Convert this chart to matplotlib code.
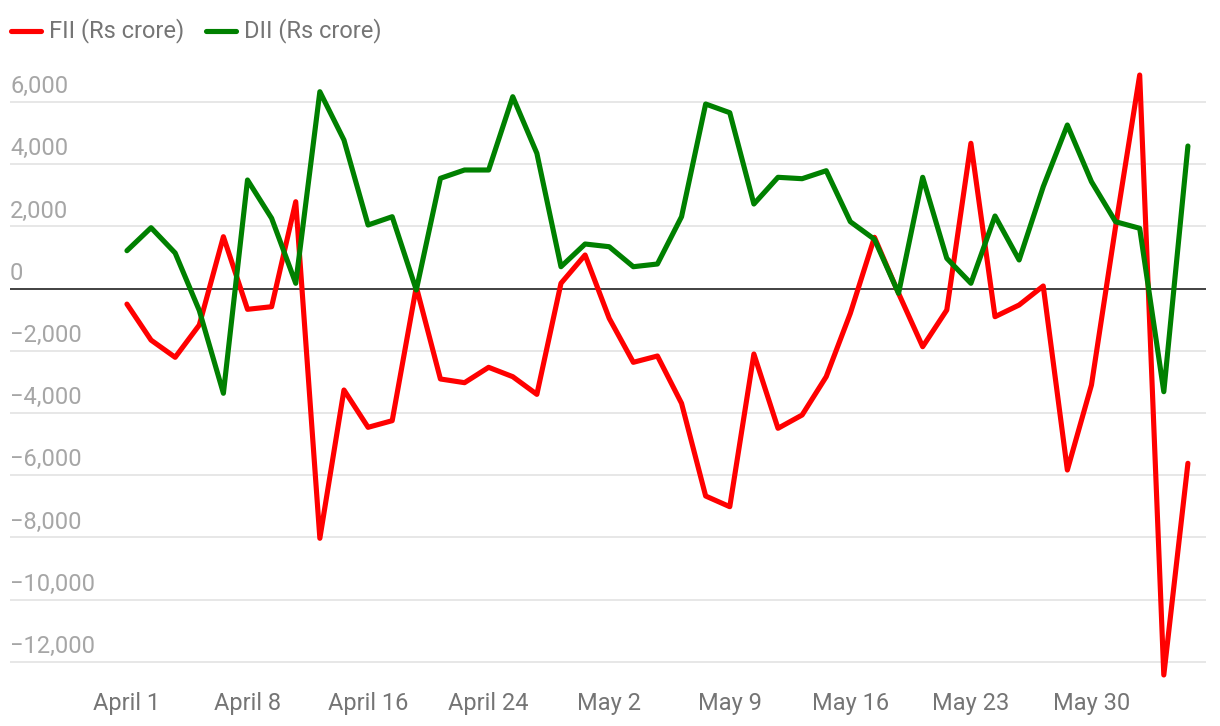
import numpy as np
import matplotlib.pyplot as plt
from matplotlib.lines import Line2D

plt.rcParams['font.family'] = ['Roboto', 'DejaVu Sans']

# daily net flows, Rs crore (trading days, April 1 onwards)
fii = [-495, -1653, -2206, -1167, 1672, -663, -579, 2797, -8026, -3257,
       -4457, -4244, 60, -2903, -3022, -2528, -2829, -3397, 174, 1084,
       -952, -2367, -2164, -3685, -6666, -7010, -2100, -4489, -4061, -2829,
       -791, 1653, -148, -1865, -685, 4675, -900, -524, 87, -5830,
       -3096, 1994, 6871, -12421, -5614]
dii = [1222, 1961, 1148, -700, -3363, 3495, 2264, 174, 6334, 4781,
       2048, 2315, -42, 3550, 3817, 3817, 6174, 4354, 707, 1437,
       1350, 707, 794, 2315, 5939, 5659, 2723, 3582, 3537, 3794,
       2154, 1588, -148, 3582, 977, 174, 2338, 923, 3280, 5264,
       3441, 2154, 1942, -3312, 4588]
tick_labels = ['April 1', 'April 8', 'April 16', 'April 24', 'May 2',
               'May 9', 'May 16', 'May 23', 'May 30']
y_ticks = [6000, 4000, 2000, 0, -2000, -4000, -6000, -8000, -10000, -12000]

W, H = 1220, 726
fig = plt.figure(figsize=(W / 100, H / 100), dpi=100)
# 31.1 px per 1000, zero line at y = 288.7 px
top_px = 288.7 - 7500 * 0.0311
bot_px = 288.7 + 12600 * 0.0311
ax = fig.add_axes([10 / W, 1 - bot_px / H, (1206 - 10) / W, (bot_px - top_px) / H])

x = np.arange(len(fii))
ax.set_xlim(-4.85, 44.75)
ax.set_ylim(-12600, 7500)

# gridlines
for v in y_ticks:
    if v == 0:
        continue
    ax.axhline(v, color='#e3e3e3', lw=1.2, zorder=1)
ax.axhline(0, color='#333333', lw=1.3, zorder=2)

ax.plot(x, fii, color='#ff0000', lw=3.7, solid_joinstyle='round',
        solid_capstyle='round', zorder=3, clip_on=False)
ax.plot(x, dii, color='#008000', lw=3.7, solid_joinstyle='round',
        solid_capstyle='round', zorder=4, clip_on=False)

# y labels sit above their gridlines, left aligned
for v in y_ticks:
    lab = f'{v:,}'.replace('-', '\u2212')
    ax.annotate(lab, xy=(0, v), xycoords=('axes fraction', 'data'),
                xytext=(0, 4), textcoords='offset pixels',
                ha='left', va='bottom', fontsize=17, color='#a6a6a6')

ax.set_xticks(x[::5])
ax.set_xticklabels(tick_labels, fontsize=17, color='#757575')
ax.tick_params(axis='x', length=0, pad=8.5)
ax.set_yticks([])
for s in ax.spines.values():
    s.set_visible(False)

# legend
def legend_item(x0, label, color):
    y = 1 - 31 / H
    fig.add_artist(Line2D([x0 / W, (x0 + 30) / W], [y, y], color=color, lw=3.7,
                          solid_capstyle='round', transform=fig.transFigure))
    fig.text((x0 + 38) / W, y, label, fontsize=17, color='#757575',
             ha='left', va='center')

legend_item(11, 'FII (Rs crore)', '#ff0000')
legend_item(206, 'DII (Rs crore)', '#008000')

fig.savefig('out.png', dpi=100)
